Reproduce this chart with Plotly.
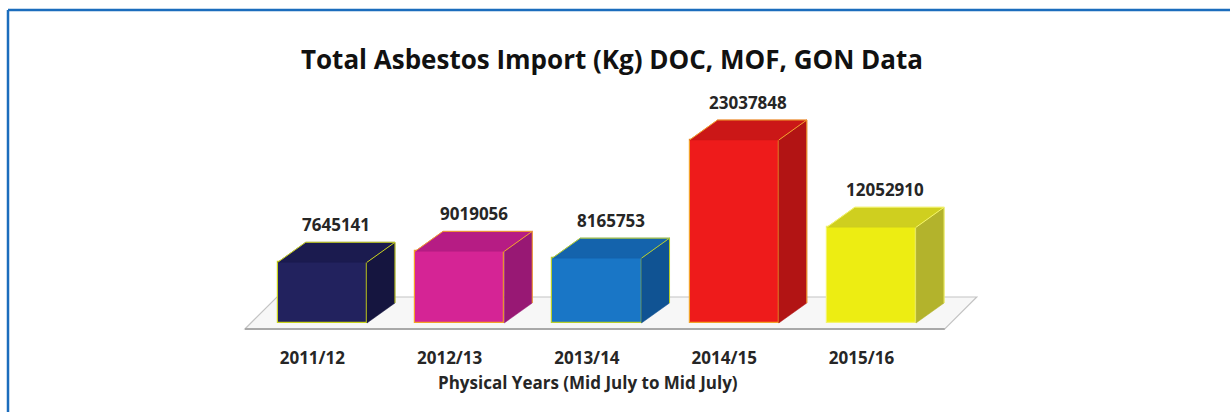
import plotly.graph_objects as go

# ---------------- data ----------------
categories = ["2011/12", "2012/13", "2013/14", "2014/15", "2015/16"]
imports_kg = [7645141, 9019056, 8165753, 23037848, 12052910]
front_colors = ["#22225e", "#d52495", "#1976c6", "#ee1b1b", "#eded12"]
top_colors = ["#1b1b4f", "#b61c84", "#1463ac", "#cb1717", "#cfcf1f"]
side_colors = ["#15153f", "#981874", "#105393", "#b21414", "#b3b32c"]
edge_colors = ["#c9d21a", "#f2a22a", "#b9cf2a", "#f2a22a", "#f4f46a"]

# ---------------- geometry (layout parameters) ----------------
W, H = 1230, 412
ML, MR, MT, MB = 240, 235, 20, 70
X_RANGE = [-0.6, 4.9]
PX_PER_X = (W - ML - MR) / (X_RANGE[1] - X_RANGE[0])
ZERO_PX = 323                      # pixel row of the value 0
PX_PER_Y = 183 / 23037848          # vertical scale
Y_RANGE = [-(H - MB - ZERO_PX) / PX_PER_Y, (ZERO_PX - MT) / PX_PER_Y]

BAR_W = 0.65
DX = 28 / PX_PER_X                 # depth offset to the right
DY = 20 / PX_PER_Y                 # depth offset upwards
FONT = "Open Sans"

fig = go.Figure()

# floor platform (decoration, drawn below the bars)
fx0, fx1 = -0.564, 4.534
fdx = 32 / PX_PER_X
fy0, fy1 = -6 / PX_PER_Y, 26 / PX_PER_Y
fig.add_shape(type="path", layer="below", xref="x", yref="y",
              path="M %f,%f L %f,%f L %f,%f L %f,%f Z" % (fx0, fy0, fx1, fy0, fx1 + fdx, fy1, fx0 + fdx, fy1),
              fillcolor="#f7f7f7", line=dict(color="#c4c4c4", width=1.2))
fig.add_shape(type="line", layer="below", xref="x", yref="y",
              x0=fx0, x1=fx1, y0=fy0, y1=fy0, line=dict(color="#a9a9a9", width=2))

# front faces
fig.add_trace(go.Bar(
    x=list(range(len(categories))), y=imports_kg, width=BAR_W,
    marker=dict(color=front_colors, line=dict(color=edge_colors, width=1.2)),
    showlegend=False, hoverinfo="skip"))

# side and top faces
for i, v in enumerate(imports_kg):
    xl, xr = i - BAR_W / 2, i + BAR_W / 2
    fig.add_trace(go.Scatter(
        x=[xr, xr, xr + DX, xr + DX, xr], y=[0, v, v + DY, DY, 0],
        fill="toself", fillcolor=side_colors[i], mode="lines",
        line=dict(color=side_colors[i], width=0.5), hoverinfo="skip", showlegend=False))
    fig.add_trace(go.Scatter(
        x=[xl, xr, xr + DX, xl + DX, xl], y=[v, v, v + DY, v + DY, v],
        fill="toself", fillcolor=top_colors[i], mode="lines",
        line=dict(color=top_colors[i], width=0.5), hoverinfo="skip", showlegend=False))
    # edges
    fig.add_trace(go.Scatter(
        x=[xl, xl + DX, xr + DX, xr + DX, None, xr, xr + DX],
        y=[v, v + DY, v + DY, DY, None, v, v + DY],
        mode="lines", line=dict(color=edge_colors[i], width=1),
        hoverinfo="skip", showlegend=False))
    fig.add_annotation(
        x=i + DX / 2, y=v + DY, text="<b>%d</b>" % v, showarrow=False,
        yanchor="bottom", yshift=4, font=dict(family=FONT, size=17, color="#262626"))

# axis title
pw, ph = W - ML - MR, H - MB - MT
fig.add_annotation(
    xref="paper", yref="paper", x=(588 - ML) / pw, y=(H - MB - 382) / ph,
    text="<b>Physical Years (Mid July to Mid July)</b>", showarrow=False,
    yanchor="middle", font=dict(family=FONT, size=17, color="#262626"))

# frame lines (top and left)
fig.add_shape(type="line", xref="paper", yref="paper",
              x0=(8 - ML) / pw, x1=(W - ML) / pw, y0=(H - MB - 10) / ph, y1=(H - MB - 10) / ph,
              line=dict(color="#1b6dbd", width=2.5))
fig.add_shape(type="line", xref="paper", yref="paper",
              x0=(8 - ML) / pw, x1=(8 - ML) / pw, y0=(H - MB - 10) / ph, y1=(H - MB - H) / ph,
              line=dict(color="#1b6dbd", width=2.5))

fig.update_layout(
    width=W, height=H,
    margin=dict(l=ML, r=MR, t=MT, b=MB),
    paper_bgcolor="white", plot_bgcolor="rgba(0,0,0,0)",
    title=dict(text="<b>Total Asbestos Import (Kg) DOC, MOF, GON Data</b>",
               x=612 / W, xanchor="center", y=1 - 60 / H, yanchor="middle",
               font=dict(family=FONT, size=26, color="#111111")),
    xaxis=dict(range=X_RANGE, showgrid=False, zeroline=False, showline=False,
               tickvals=[i - 10 / PX_PER_X for i in range(len(categories))],
               ticktext=["<b>%s</b>" % c for c in categories],
               tickfont=dict(family=FONT, size=17, color="#262626"),
               ticks="", ticklabelstandoff=4, fixedrange=True),
    yaxis=dict(range=Y_RANGE, visible=False, fixedrange=True),
    bargap=0,
)

fig.write_html("out.html", config={"displayModeBar": False},
               post_script="document.body.style.margin='0px';")
